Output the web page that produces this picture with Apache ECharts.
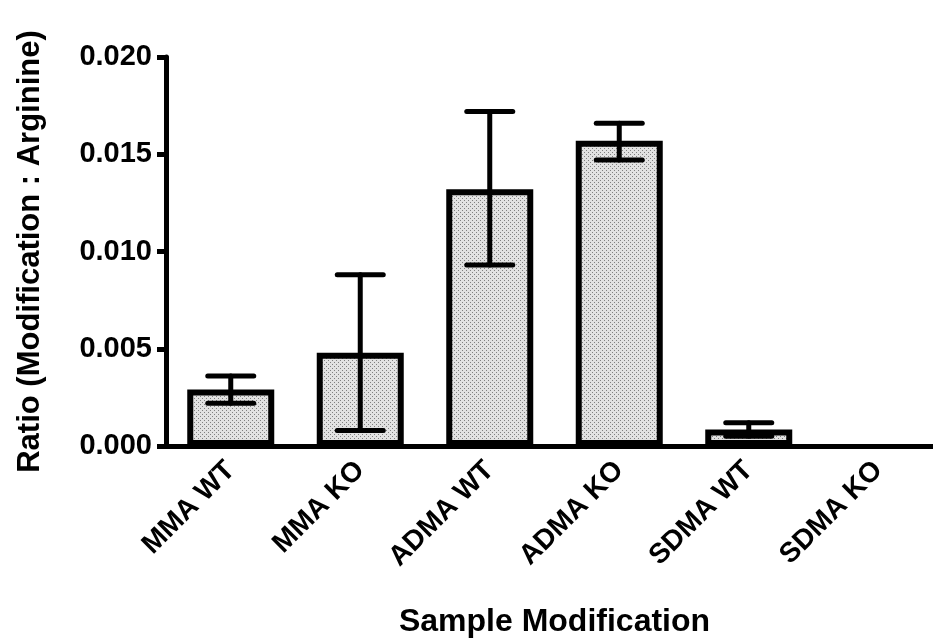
<!DOCTYPE html>
<html>
<head>
<meta charset="utf-8">
<script src="https://cdn.jsdelivr.net/npm/echarts@6/dist/echarts.min.js"></script>
<style>html,body{margin:0;padding:0;background:#fff;}#c{width:933px;height:639px;}</style>
</head>
<body>
<div id="c"></div>
<script>
var categories = ['MMA WT', 'MMA KO', 'ADMA WT', 'ADMA KO', 'SDMA WT', 'SDMA KO'];
var means = [0.0029, 0.0048, 0.0132, 0.0157, 0.00085, 0];
var errLow = [0.0022, 0.0008, 0.0093, 0.0147, 0.0005, 0];
var errHigh = [0.0036, 0.0088, 0.0172, 0.0166, 0.0012, 0];
var yTicks = [0, 0.005, 0.010, 0.015, 0.020];

var FONT = '"Liberation Sans", Arial, Helvetica, sans-serif';

// dotted fill pattern
var pat = document.createElement('canvas');
pat.width = 4; pat.height = 4;
var pc = pat.getContext('2d');
pc.fillStyle = '#e2e2e2'; pc.fillRect(0, 0, 4, 4);
pc.fillStyle = '#808080';
pc.fillRect(0, 0, 1, 1); pc.fillRect(2, 2, 1, 1);

var barData = means.map(function (v) {
  return v === 0 ? { value: v, itemStyle: { borderWidth: 0, opacity: 0 } } : v;
});
var errData = categories.map(function (c, i) { return [i, errLow[i], errHigh[i]]; });

var chart = echarts.init(document.getElementById('c'), null, { renderer: 'canvas' });
chart.setOption({
  animation: false,
  backgroundColor: '#ffffff',
  grid: { left: 166, width: 777, top: 57, bottom: 193, containLabel: false, outerBoundsMode: 'none' },
  xAxis: {
    type: 'category',
    data: categories,
    name: 'Sample Modification',
    nameLocation: 'middle',
    nameGap: 160,
    nameTextStyle: { fontFamily: FONT, fontWeight: 'bold', fontSize: 32, color: '#000' },
    axisLine: { lineStyle: { color: '#000', width: 5 } },
    axisTick: { alignWithLabel: true, length: 9, lineStyle: { color: '#000', width: 5 } },
    axisLabel: { rotate: 45, margin: 20, fontFamily: FONT, fontWeight: 'bold', fontSize: 28, color: '#000' }
  },
  yAxis: {
    type: 'value',
    min: 0, max: 0.02, interval: 0.005,
    name: 'Ratio (Modification : Arginine)',
    nameLocation: 'middle',
    nameGap: 120,
    nameTextStyle: { fontFamily: FONT, fontWeight: 'bold', fontSize: 31, color: '#000' },
    axisLine: { show: true, lineStyle: { color: '#000', width: 5 } },
    axisTick: { show: true, length: 9, lineStyle: { color: '#000', width: 5 } },
    splitLine: { show: false },
    axisLabel: {
      margin: 14, fontFamily: FONT, fontWeight: 'bold', fontSize: 29, color: '#000',
      formatter: function (v) { return v.toFixed(3); }
    }
  },
  series: [
    {
      type: 'bar',
      data: barData,
      barWidth: 87,
      itemStyle: { color: { image: pat, repeat: 'repeat' }, borderColor: '#000', borderWidth: 6 },
      z: 2
    },
    {
      type: 'custom',
      data: errData,
      z: 3,
      renderItem: function (params, api) {
        var i = api.value(0);
        if (api.value(2) === 0) return null;
        var lo = api.coord([i, api.value(1)]);
        var hi = api.coord([i, api.value(2)]);
        var hw = 23;
        var st = { stroke: '#000', lineWidth: 5, lineCap: 'round' };
        return {
          type: 'group',
          children: [
            { type: 'line', shape: { x1: lo[0], y1: lo[1], x2: hi[0], y2: hi[1] }, style: st },
            { type: 'line', shape: { x1: hi[0] - hw, y1: hi[1], x2: hi[0] + hw, y2: hi[1] }, style: st },
            { type: 'line', shape: { x1: lo[0] - hw, y1: lo[1], x2: lo[0] + hw, y2: lo[1] }, style: st }
          ]
        };
      }
    }
  ]
});
</script>
</body>
</html>
